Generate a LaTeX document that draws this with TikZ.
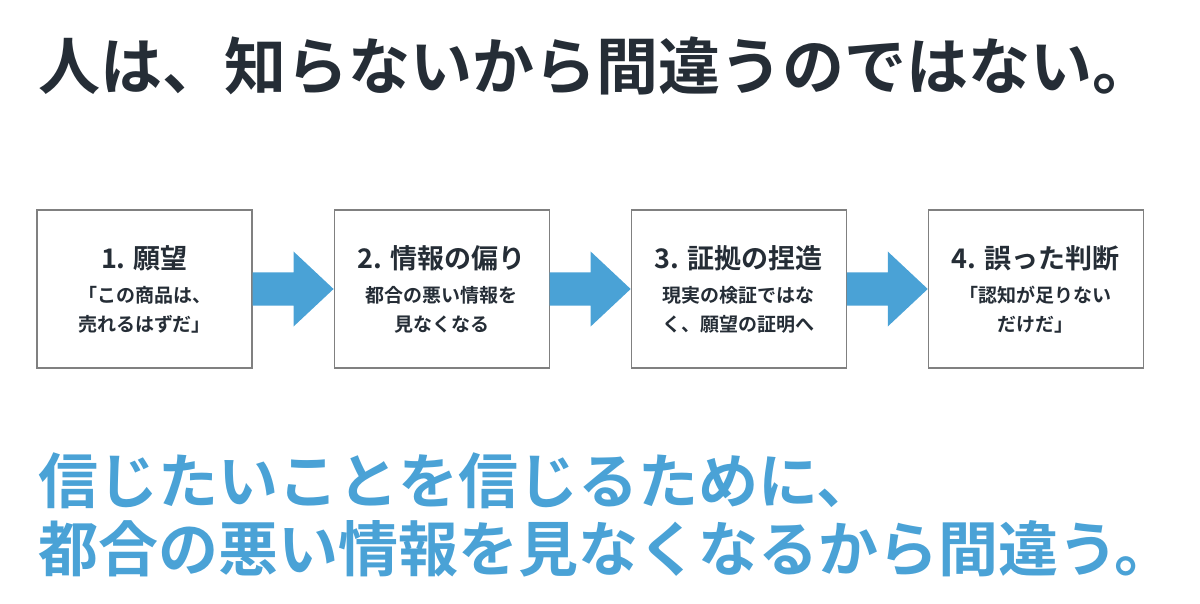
\documentclass[tikz,border=0pt]{standalone}
\usepackage{fontspec}
\setmainfont{Noto Sans CJK JP}[BoldFont={Noto Sans CJK JP Bold}]
\usetikzlibrary{positioning,calc}
\definecolor{inkdark}{RGB}{37, 45, 54}
\definecolor{skyblue}{RGB}{74, 162, 214}
\definecolor{framegray}{RGB}{128, 128, 128}
\tikzstyle{stepbox}=[draw=framegray,line width=1.1pt,minimum width=215pt,minimum height=158pt,align=center,inner sep=0pt,text=inkdark,font=\fontsize{19}{29}\selectfont\bfseries]
\tikzstyle{flow}=[fill=skyblue]
\newcommand{\stephead}[1]{{\fontsize{27}{29}\selectfont #1}}

\begin{document}
\begin{tikzpicture}[x=1pt,y=-1pt]

  \useasboundingbox (0,0) rectangle (1200,604);

  % title
  \node[anchor=west,inner sep=0pt,text=inkdark,font=\fontsize{62}{70}\selectfont\bfseries] (title) at (38,66) {人は、知らないから間違うのではない。};

  % steps
  \node[stepbox] (b1) at (144.5,289) {\stephead{1. 願望}\\[5pt]「この商品は、\\売れるはずだ」};
  \node[stepbox,right=81pt of b1] (b2) {\stephead{2. 情報の偏り}\\[5pt]都合の悪い情報を\\見なくなる};
  \node[stepbox,right=81pt of b2] (b3) {\stephead{3. 証拠の捏造}\\[5pt]現実の検証ではな\\く、願望の証明へ};
  \node[stepbox,right=81pt of b3] (b4) {\stephead{4. 誤った判断}\\[5pt]「認知が足りない\\だけだ」};

  % block arrows
  \foreach \a/\b in {b1/b2,b2/b3,b3/b4} {
    \fill[flow] ($(\a.east)+(0,-16.5)$) -- ($(\b.west)+(-40,-16.5)$) -- ($(\b.west)+(-40,-37.5)$) -- (\b.west)
      -- ($(\b.west)+(-40,37.5)$) -- ($(\b.west)+(-40,16.5)$) -- ($(\a.east)+(0,16.5)$) -- cycle;
  }

  % message
  \node[anchor=west,inner sep=0pt,text=skyblue,font=\fontsize{60}{68}\selectfont\bfseries] (msg1) at (38,481) {信じたいことを信じるために、};
  \node[anchor=west,inner sep=0pt,text=skyblue,font=\fontsize{60}{68}\selectfont\bfseries] (msg2) at (38,549) {都合の悪い情報を見なくなるから間違う。};

\end{tikzpicture}
\end{document}
